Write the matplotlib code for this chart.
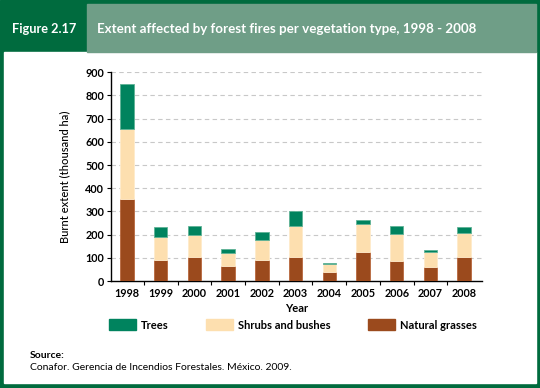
import numpy as np
import matplotlib.pyplot as plt
from matplotlib.patches import Rectangle

plt.rcParams['font.family'] = ['Lato', 'DejaVu Sans']

# data (thousand ha)
years = ['1998', '1999', '2000', '2001', '2002', '2003', '2004', '2005', '2006', '2007', '2008']
grasses = [352, 89, 102, 65, 89, 103, 40, 125, 86, 59, 102]
shrubs = [302, 101, 95, 54, 86, 133, 32, 119, 117, 67, 105]
trees = [196, 43, 40, 19, 35, 66, 6, 19, 34, 8, 26]

dark_green = '#006B3E'
light_green = '#6F9E87'
c_trees = '#00835E'
c_shrubs = '#FDDFAF'
c_grass = '#9B4A1D'

W, H = 540, 388
fig = plt.figure(figsize=(5.4, 3.88), dpi=100)

def frect(x, y, w, h, color):
    # rectangle in pixel coords (top-left origin)
    fig.patches.append(Rectangle((x / W, 1 - (y + h) / H), w / W, h / H,
                                 transform=fig.transFigure, color=color, zorder=-10))

frect(0, 0, W, H, dark_green)
frect(4, 52, 532, 331, 'white')
frect(87, 4, 449, 48, light_green)

fig.text(12 / W, 1 - 29 / H, 'Figure 2.17', color='white', fontsize=9.2,
         fontweight='bold', va='center', ha='left')
fig.text(97 / W, 1 - 29 / H, 'Extent affected by forest fires per vegetation type, 1998 - 2008',
         color='white', fontsize=9.6, fontweight='bold', va='center', ha='left')

ax = fig.add_axes([111 / W, 1 - 281 / H, 371 / W, (281 - 72.3) / H])
ax.patch.set_alpha(0)
x = np.arange(len(years))
bw = 0.4
g = np.array(grasses)
s = np.array(shrubs)
t = np.array(trees)
ax.bar(x, g, bw, color=c_grass, edgecolor='#B8683E', linewidth=0.6, zorder=3)
ax.bar(x, s, bw, bottom=g, color=c_shrubs, edgecolor='#FFEBCB', linewidth=0.6, zorder=3)
ax.bar(x, t, bw, bottom=g + s, color=c_trees, edgecolor='#5FB296', linewidth=0.6, zorder=3)

ax.set_xlim(-0.475, 10.53)
ax.set_ylim(0, 900)
ax.set_yticks(range(0, 901, 100))
ax.set_xticks(x)
ax.set_xticklabels(years, fontweight='bold', fontsize=7.8)
ax.set_xticks(x[:-1] + 0.5, minor=True)
ax.tick_params(axis='x', which='major', length=0, pad=5)
ax.tick_params(axis='x', which='minor', length=3, width=0.8, direction='out')
ax.tick_params(axis='y', length=3, width=0.8, labelsize=7.8, pad=2)
for lab in ax.get_yticklabels():
    lab.set_fontweight('bold')
for yv in range(100, 901, 100):
    ax.axhline(yv, color='#C8C8C8', linestyle=(0, (4, 3)), linewidth=0.8, zorder=1)
for side in ['top', 'right']:
    ax.spines[side].set_visible(False)
ax.spines['left'].set_linewidth(1.0)
ax.spines['bottom'].set_linewidth(1.0)
ax.set_xlabel('Year', fontweight='bold', fontsize=8, labelpad=3)
ax.set_ylabel('Burnt extent (thousand ha)', fontsize=8, fontweight='medium', labelpad=11)

handles = [Rectangle((0, 0), 1, 1, color=c) for c in (c_trees, c_shrubs, c_grass)]
leg = fig.legend(handles, ['Trees', 'Shrubs and bushes', 'Natural grasses'], ncol=3,
                 loc='center', bbox_to_anchor=(293 / W, 1 - 325 / H), frameon=False,
                 handlelength=2.4, handleheight=1.15, handletextpad=0.45,
                 columnspacing=3.4, borderpad=0, prop={'weight': 'bold', 'size': 8})

fig.text(30 / W, 1 - 355 / H, 'Source:', fontsize=7.5, fontweight='bold', va='center')
fig.text(30 / W, 1 - 367 / H, 'Conafor. Gerencia de Incendios Forestales. México. 2009.',
         fontsize=7.5, va='center')

fig.savefig('out.png', dpi=100)
